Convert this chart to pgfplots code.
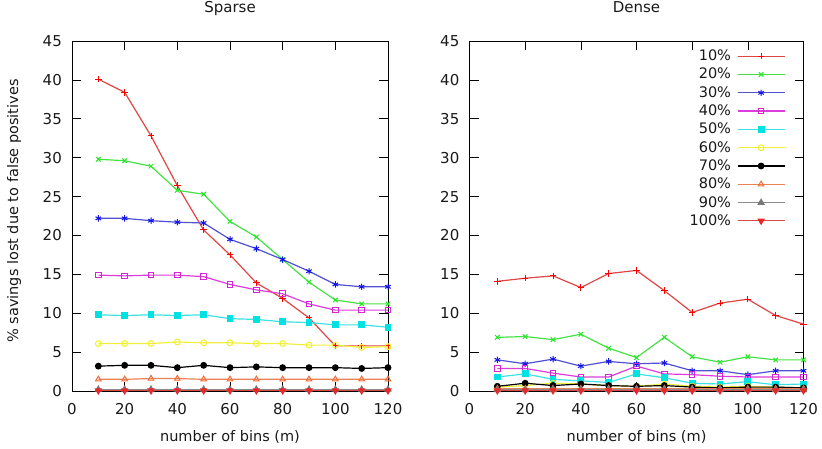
\documentclass[border=0pt]{standalone}
\usepackage{pgfplots}
\pgfplotsset{compat=1.18}
\usepackage{fontspec}
\setmainfont{DejaVu Sans}
\setsansfont{DejaVu Sans}

% gnuplot-like palette
\definecolor{c1}{RGB}{225,70,70}
\definecolor{c2}{RGB}{70,225,70}
\definecolor{c3}{RGB}{80,80,210}
\definecolor{c4}{RGB}{220,60,220}
\definecolor{c5}{RGB}{60,225,225}
\definecolor{c6}{RGB}{240,240,60}
\definecolor{c7}{RGB}{0,0,0}
\definecolor{c8}{RGB}{235,130,85}
\definecolor{c9}{RGB}{140,140,140}
\definecolor{c10}{RGB}{220,70,70}
\definecolor{m1}{RGB}{255,0,0}
\definecolor{m2}{RGB}{40,230,40}
\definecolor{m3}{RGB}{20,20,230}
\definecolor{m4}{RGB}{210,40,210}
\definecolor{m5}{RGB}{0,225,225}
\definecolor{m6}{RGB}{240,240,40}
\definecolor{m8}{RGB}{240,110,60}
\definecolor{m9}{RGB}{120,120,120}
\definecolor{m10}{RGB}{230,40,40}
\definecolor{txt}{RGB}{25,25,25}

\pgfplotstableread{
x   s10  s20  s30  s40  s50  s60  s70  s80  s90  s100
10  40.1 29.8 22.2 14.9 9.8  6.1  3.2  1.5  0.2  0.05
20  38.4 29.6 22.2 14.8 9.7  6.1  3.3  1.5  0.2  0.05
30  32.8 28.9 21.9 14.9 9.8  6.1  3.3  1.6  0.2  0.05
40  26.4 25.8 21.7 14.9 9.7  6.3  3.0  1.6  0.2  0.05
50  20.7 25.3 21.6 14.7 9.8  6.2  3.3  1.5  0.2  0.05
60  17.5 21.8 19.5 13.7 9.3  6.2  3.0  1.5  0.2  0.05
70  13.9 19.8 18.3 13.0 9.2  6.1  3.1  1.5  0.2  0.05
80  11.9 16.9 16.9 12.5 8.9  6.1  3.0  1.5  0.2  0.05
90  9.4  14.0 15.4 11.2 8.8  5.9  3.0  1.5  0.2  0.05
100 5.8  11.7 13.7 10.4 8.5  5.9  3.0  1.5  0.2  0.05
110 5.8  11.2 13.4 10.4 8.5  5.6  2.9  1.5  0.2  0.05
120 5.8  11.2 13.4 10.4 8.2  5.7  3.0  1.5  0.2  0.05
}\sparse

\pgfplotstableread{
x   s10  s20  s30  s40  s50  s60  s70  s80  s90  s100
10  14.1 6.9  4.0  2.9  1.8  0.5  0.6  0.3  0.15 0.05
20  14.5 7.0  3.5  2.9  2.2  0.7  1.0  0.3  0.15 0.05
30  14.8 6.6  4.1  2.3  1.5  1.0  0.7  0.3  0.15 0.05
40  13.3 7.3  3.2  1.8  1.3  0.9  0.9  0.3  0.15 0.05
50  15.1 5.5  3.8  1.8  1.1  0.7  0.7  0.3  0.15 0.05
60  15.5 4.3  3.5  3.2  2.2  0.6  0.6  0.3  0.15 0.05
70  12.9 6.9  3.6  2.2  1.7  0.9  0.7  0.3  0.15 0.05
80  10.1 4.4  2.6  2.1  1.0  0.6  0.5  0.3  0.15 0.05
90  11.3 3.7  2.6  1.9  0.9  0.5  0.4  0.3  0.15 0.05
100 11.8 4.4  2.1  1.8  1.2  0.6  0.5  0.3  0.15 0.05
110 9.7  4.0  2.6  1.8  0.8  0.5  0.5  0.3  0.15 0.05
120 8.6  4.0  2.6  1.8  0.9  0.4  0.4  0.3  0.15 0.05
}\dense

\pgfplotsset{
  gp/.style={
    scale only axis, height=350pt,
    xmin=0, xmax=120, ymin=0, ymax=45,
    xtick={0,20,...,120}, ytick={0,5,...,45},
    clip=false,
    tick align=inside, major tick length=9pt,
    every tick/.style={black, line width=0.6pt},
    axis line style={black, line width=0.8pt},
    /pgf/number format/assume math mode=true,
    tick label style={font=\fontsize{15}{17}\selectfont, text=txt},
    xticklabel style={anchor=base, inner sep=0pt, yshift=-24pt},
    yticklabel style={anchor=east, inner sep=0pt, xshift=-10pt},
    label style={font=\fontsize{14.5}{17}\selectfont, text=txt},
    title style={font=\fontsize{15}{18}\selectfont, text=txt, at={(0.5,1)}, anchor=base, inner sep=0pt, yshift=22.4pt},
    xlabel style={at={(0.5,0)}, anchor=base, inner sep=0pt, yshift=-51pt},
    xlabel={number of bins (m)},
    every axis plot/.append style={line width=1.2pt},
  },
  p1/.style={c1, mark=+, mark size=3.2pt, mark options={m1, line width=1pt}},
  p2/.style={c2, mark=x, mark size=3.2pt, mark options={m2, line width=1pt}},
  p3/.style={c3, mark=asterisk, mark size=3.2pt, mark options={m3, line width=1pt}},
  p4/.style={c4, mark=square, mark size=2.8pt, mark options={m4, line width=1pt}},
  p5/.style={c5, mark=square*, mark size=2.8pt, mark options={m5, fill=m5}},
  p6/.style={c6, mark=o, mark size=2.9pt, mark options={m6, line width=1pt}},
  p7/.style={c7, mark=*, mark size=2.8pt, mark options={black, fill=black}},
  p8/.style={c8, mark=triangle, mark size=3.2pt, mark options={m8, line width=1pt}},
  p9/.style={c9, mark=triangle*, mark size=3.2pt, mark options={m9, fill=m9}},
  p10/.style={c10, mark=triangle*, mark size=3.2pt, mark options={m10, fill=m10, rotate=180}},
}

\begin{document}
\begin{tikzpicture}
\path[use as bounding box] (0pt,0pt) rectangle (822pt,449pt);

\begin{axis}[gp, at={(72pt,58pt)}, anchor=south west, width=316pt,
  title={Sparse},
  ylabel={\% savings lost due to false positives},
  ylabel style={at={(axis description cs:-0.1835,0.514)}, anchor=center},
]
\addplot[p1] table[y=s10] {\sparse};
\addplot[p2] table[y=s20] {\sparse};
\addplot[p3] table[y=s30] {\sparse};
\addplot[p4] table[y=s40] {\sparse};
\addplot[p5] table[y=s50] {\sparse};
\addplot[p6] table[y=s60] {\sparse};
\addplot[p7] table[y=s70] {\sparse};
\addplot[p8] table[y=s80] {\sparse};
\addplot[p9] table[y=s90] {\sparse};
\addplot[p10] table[y=s100] {\sparse};
\end{axis}

\begin{axis}[gp, at={(469.5pt,58pt)}, anchor=south west, width=334pt,
  title={Dense},
  legend plot pos=right,
  legend cell align=right,
  legend image code/.code={\draw[mark repeat=2,mark phase=2,#1] plot coordinates {(0pt,0pt) (23.5pt,0pt) (47pt,0pt)};},
  legend style={draw=none, fill=none, at={(axis cs:113.5,44.1)}, anchor=north east,
    inner sep=0pt, font=\fontsize{14.5}{17}\selectfont, text=txt,
    row sep=2.3pt, column sep=4pt,
    nodes={inner sep=2pt, text height=10.5pt, text depth=1.5pt}},
]
\addplot[p1] table[y=s10] {\dense};
\addlegendentry{10\%}
\addplot[p2] table[y=s20] {\dense};
\addlegendentry{20\%}
\addplot[p3] table[y=s30] {\dense};
\addlegendentry{30\%}
\addplot[p4] table[y=s40] {\dense};
\addlegendentry{40\%}
\addplot[p5] table[y=s50] {\dense};
\addlegendentry{50\%}
\addplot[p6] table[y=s60] {\dense};
\addlegendentry{60\%}
\addplot[p7] table[y=s70] {\dense};
\addlegendentry{70\%}
\addplot[p8] table[y=s80] {\dense};
\addlegendentry{80\%}
\addplot[p9] table[y=s90] {\dense};
\addlegendentry{90\%}
\addplot[p10] table[y=s100] {\dense};
\addlegendentry{100\%}
\end{axis}
\end{tikzpicture}
\end{document}
